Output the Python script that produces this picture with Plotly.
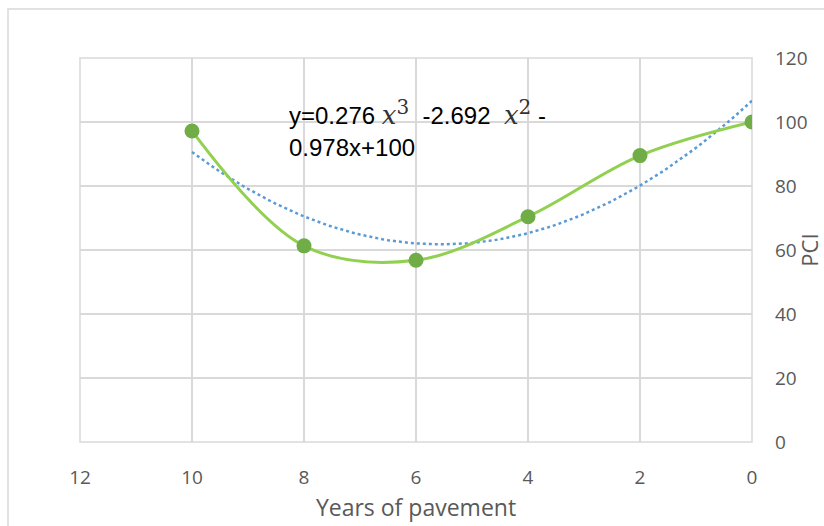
import numpy as np
import plotly.graph_objects as go

years = [10, 8, 6, 4, 2, 0]
pci = [97.2, 61.3, 56.8, 70.4, 89.5, 100.0]
x_ticks = [12, 10, 8, 6, 4, 2, 0]
y_ticks = [0, 20, 40, 60, 80, 100, 120]

# Excel-style polynomial (order 2) trendline fitted on the data
coef = np.polyfit(years, pci, 2)
trend_x = np.linspace(10, 0, 101)
trend_y = np.polyval(coef, trend_x)

L, R, T, B = 80, 72, 58, 84
W, H = 824, 526
pw, ph = W - L - R, H - T - B

def px_x(p):
    return (p - L) / pw

def px_y(p):
    return (H - B - p) / ph

FONT = "Open Sans, Lato, sans-serif"

fig = go.Figure()
fig.add_trace(go.Scatter(x=trend_x, y=trend_y, mode="lines",
                         line=dict(color="#5b9bd5", width=2.5, dash="dot"),
                         hoverinfo="skip", showlegend=False))
fig.add_trace(go.Scatter(x=years, y=pci, mode="lines+markers",
                         line=dict(color="#92d050", width=3, shape="spline", smoothing=1.0),
                         marker=dict(color="#70ad47", size=15),
                         showlegend=False))

tick_font = dict(family=FONT, size=19, color="#595959")
MX = "<span style='font-family:DejaVu Serif;font-style:italic;font-size:26px;color:#333'>x</span>"
def SUP(s):
    return "<sup><span style='font-family:DejaVu Serif;font-size:20px;color:#333'>" + s + "</span></sup>"

eq_font = dict(family="Liberation Sans, Arial, sans-serif", size=24, color="#000000")

fig.update_layout(
    width=W, height=H,
    margin=dict(l=L, r=R, t=T, b=B, autoexpand=False),
    paper_bgcolor="white", plot_bgcolor="white",
    xaxis=dict(range=[12, 0], tickvals=x_ticks, showgrid=True, gridcolor="#d9d9d9",
               gridwidth=1.5, zeroline=False, showline=False, tickfont=tick_font,
               ticks="", ticklabelstandoff=22, automargin=False,
               title=dict(text="Years of pavement", standoff=10,
                          font=dict(family=FONT, size=23, color="#595959"))),
    yaxis=dict(range=[0, 120], tickvals=y_ticks, side="right", showgrid=True,
               gridcolor="#d9d9d9", gridwidth=1.5, zeroline=False, showline=False,
               tickfont=tick_font, ticks="", ticklabelstandoff=22, automargin=False,
               title=dict(text="PCI", standoff=4,
                          font=dict(family=FONT, size=22, color="#595959"))),
    shapes=[
        dict(type="rect", xref="paper", yref="paper", x0=px_x(80), x1=px_x(752),
             y0=px_y(442), y1=px_y(58), line=dict(color="#d9d9d9", width=1.5), layer="below"),
        dict(type="rect", xref="paper", yref="paper", x0=px_x(282), x1=px_x(562),
             y0=px_y(172), y1=px_y(98), fillcolor="white", line=dict(width=0), layer="below"),
        dict(type="rect", xref="paper", yref="paper", x0=px_x(8), x1=px_x(840),
             y0=px_y(540), y1=px_y(9), line=dict(color="#d9d9d9", width=1.5), layer="below"),
    ],
    annotations=[
        dict(xref="paper", yref="paper", x=px_x(288), y=px_y(131), xanchor="left", yanchor="bottom",
             align="left", showarrow=False, borderpad=0,
             text="y=0.276 " + MX + SUP("3") + "  -2.692  " + MX + SUP("2") + " -",
             font=eq_font),
        dict(xref="paper", yref="paper", x=px_x(288), y=px_y(133), xanchor="left", yanchor="top",
             align="left", showarrow=False, borderpad=0, text="0.978x+100", font=eq_font),
    ],
)

fig.write_html("out.html", post_script="document.body.style.margin='0px';",
               config={"displayModeBar": False})
